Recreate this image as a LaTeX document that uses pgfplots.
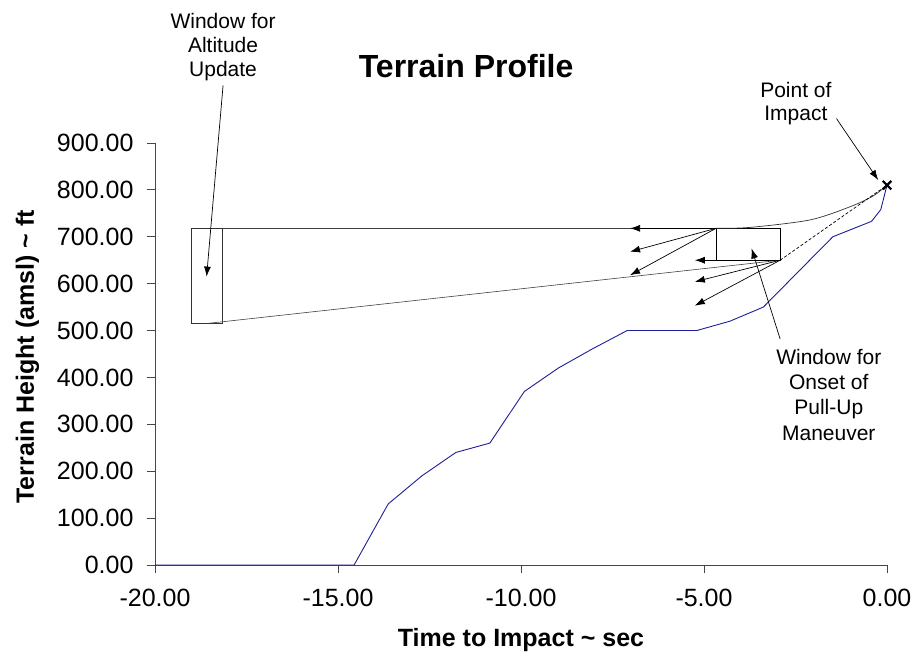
\documentclass[border=0pt]{standalone}
\usepackage{fontspec}
\setmainfont{Liberation Sans}
\usepackage{pgfplots}
\pgfplotsset{compat=1.18}
\usetikzlibrary{arrows.meta}

\definecolor{terrain}{RGB}{30,30,150}
\definecolor{axisgray}{RGB}{70,70,70}

\begin{document}
\begin{tikzpicture}
\useasboundingbox (0,0) rectangle (916pt,663pt);
\begin{axis}[
  at={(155pt,98pt)}, anchor=south west,
  scale only axis,
  width=732pt, height=422pt,
  xmin=-20, xmax=0,
  ymin=0, ymax=900,
  axis lines=left,
  axis line style={-, axisgray, line width=0.8pt},
  clip=false,
  xtick={-20,-15,-10,-5,0},
  ytick={0,100,...,900},
  tick align=outside,
  major tick length=8pt,
  tick style={axisgray, line width=0.8pt},
  ticklabel style={font=\fontsize{25}{30}\selectfont},
  xticklabel style={yshift=-13pt},
  yticklabel style={xshift=-10pt},
  /pgf/number format/.cd, fixed, fixed zerofill, precision=2, assume math mode=true,
]
% terrain profile
\addplot[terrain, line width=0.9pt] coordinates {
  (-20,0) (-14.56,0) (-13.63,130) (-12.71,190) (-11.78,240) (-10.85,260)
  (-9.91,370) (-8.98,420) (-8.07,460) (-7.10,500) (-5.20,500) (-4.29,520)
  (-3.38,550) (-1.48,700) (-0.42,733) (-0.17,758) (0,810)
};
% window for altitude update
\addplot[black!80, line width=0.6pt] coordinates {
  (-19.02,515) (-19.02,718) (-18.15,718) (-18.15,515) (-19.02,515)
};
% window for onset of pull-up
\addplot[black, line width=0.8pt] coordinates {
  (-4.67,650) (-4.67,718) (-2.92,718) (-2.92,650) (-4.67,650)
};
% trajectories
\addplot[black!75, line width=0.6pt] coordinates {(-18.15,718) (-4.67,718)};
\addplot[black!75, line width=0.6pt] coordinates {(-18.59,515) (-2.92,650)};
\addplot[black!80, line width=0.7pt, smooth] coordinates {
  (-4.67,718) (-3.74,720) (-2.10,736) (-1.01,764) (-0.38,787) (0,810)
};
\addplot[black, line width=0.7pt, dash pattern=on 3pt off 2pt] coordinates {(-2.92,650) (0,810)};
% point of impact
\addplot[only marks, mark=x, mark size=6pt, line width=2.2pt, black] coordinates {(0,810)};
% arrows
\addplot[black, line width=0.7pt, -{Latex[length=10pt,width=7pt]}] coordinates {(-4.67,718) (-7.02,718)};
\addplot[black, line width=0.7pt, -{Latex[length=10pt,width=7pt]}] coordinates {(-4.67,718) (-7.02,668)};
\addplot[black, line width=0.7pt, -{Latex[length=10pt,width=7pt]}] coordinates {(-4.67,718) (-7.02,618)};
\addplot[black, line width=0.7pt, -{Latex[length=10pt,width=7pt]}] coordinates {(-2.92,650) (-5.25,650)};
\addplot[black, line width=0.7pt, -{Latex[length=10pt,width=7pt]}] coordinates {(-2.92,650) (-5.25,604)};
\addplot[black, line width=0.7pt, -{Latex[length=10pt,width=7pt]}] coordinates {(-2.92,650) (-5.25,553)};
\addplot[black, line width=0.7pt, -{Latex[length=10pt,width=7pt]}] coordinates {(-18.14,1023) (-18.59,615)};
\addplot[black, line width=0.7pt, -{Latex[length=10pt,width=7pt]}] coordinates {(-1.38,952) (-0.24,821)};
\addplot[black, line width=0.7pt, -{Latex[length=10pt,width=7pt]}] coordinates {(-2.92,482) (-3.70,675)};

% texts
\node[anchor=base, font=\fontsize{32}{38}\selectfont\bfseries] at (axis cs:-11.50,1040) {Terrain Profile};
\node[anchor=base, font=\fontsize{25}{30}\selectfont\bfseries] at (axis cs:-10,-173) {Time to Impact \textasciitilde{} sec};
\node[anchor=base, rotate=90, font=\fontsize{25}{30}\selectfont\bfseries] at (axis cs:-23.31,444) {Terrain Height (amsl) \textasciitilde{} ft};
\node[anchor=north, inner sep=0pt, align=center, font=\fontsize{21}{24}\selectfont] at (axis cs:-18.14,1176) {Window for\\Altitude\\Update};
\node[anchor=north, inner sep=0pt, align=center, font=\fontsize{21}{23.5}\selectfont] at (axis cs:-2.49,1030) {Point of\\Impact};
\node[anchor=north, inner sep=0pt, align=center, font=\fontsize{21}{25.3}\selectfont] at (axis cs:-1.59,461) {Window for\\Onset of\\Pull-Up\\Maneuver};
\end{axis}
\end{tikzpicture}
\end{document}
